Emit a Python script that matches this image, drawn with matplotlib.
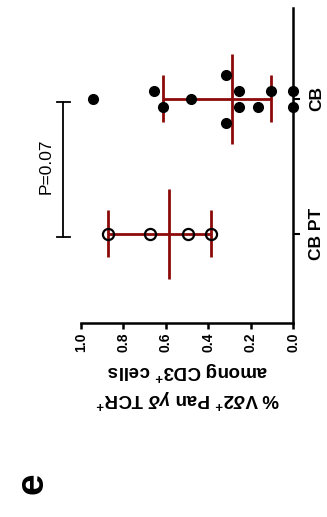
import matplotlib
matplotlib.use("Agg")
import matplotlib.pyplot as plt
import numpy as np

plt.rcParams['font.family'] = ['Liberation Sans', 'DejaVu Sans']
plt.rcParams['mathtext.fontset'] = 'custom'
plt.rcParams['mathtext.rm'] = 'Liberation Sans:bold'
plt.rcParams['mathtext.bf'] = 'Liberation Sans:bold'
plt.rcParams['mathtext.it'] = 'Liberation Sans:bold:italic'

# ---- data ----
categories = ["CB PT", "CB"]
cb_pt_values = [0.870, 0.674, 0.493, 0.386]
cb_values = [0.0, 0.0, 0.104, 0.166, 0.254, 0.254, 0.316, 0.316,
             0.482, 0.614, 0.655, 0.943]
# median with interquartile range
cb_pt_median, cb_pt_low, cb_pt_high = 0.583, 0.386, 0.870
cb_median, cb_low, cb_high = 0.287, 0.104, 0.614
value_ticks = [1.0, 0.8, 0.6, 0.4, 0.2, 0.0]
p_text = "P=0.07"

# scatter slots (multiples of the row spacing) for the CB points
cb_slots = [0.5, -0.5, 0.5, -0.5, 0.5, -0.5, 1.5, -1.5, 0.0, -0.5, 0.5, 0.0]
slot_step = 0.1185

red = '#8c0a0a'
W, H = 327, 517
fig = plt.figure(figsize=(W / 100, H / 100), dpi=100)
ax = fig.add_axes([80.7 / W, 1 - 323 / H, (293 - 80.7) / W, (323 - 8) / H])

pos = {c: i for i, c in enumerate(categories)}

def summary(y, med, lo, hi):
    ax.plot([lo, hi], [y, y], color=red, lw=2.0, zorder=2, solid_capstyle='butt')
    for v in (lo, hi):
        ax.plot([v, v], [y - 0.174, y + 0.174], color=red, lw=2.0, zorder=2,
                solid_capstyle='butt')
    ax.plot([med, med], [y - 0.333, y + 0.333], color=red, lw=2.0, zorder=2,
            solid_capstyle='butt')

summary(pos["CB PT"], cb_pt_median, cb_pt_low, cb_pt_high)
summary(pos["CB"], cb_median, cb_low, cb_high)

ax.plot(cb_pt_values, [pos["CB PT"]] * len(cb_pt_values), 'o', ms=8,
        mfc='none', mec='black', mew=1.6, zorder=4, clip_on=False)
ax.plot(cb_values, pos["CB"] + np.array(cb_slots) * slot_step, 'o', ms=7,
        mfc='black', mec='black', zorder=4, clip_on=False)

ax.set_xlim(1.0, 0.0)
ax.set_ylim(-0.66, 1.674)

for s in ('top', 'left'):
    ax.spines[s].set_visible(False)
for s in ('bottom', 'right'):
    ax.spines[s].set_linewidth(1.8)

ax.set_xticks(value_ticks)
ax.set_xticklabels([f"{v:.1f}" for v in value_ticks], rotation=90,
                   fontsize=10, fontweight='bold')
ax.tick_params(axis='x', length=4, width=1.8, pad=3)

ax.yaxis.tick_right()
ax.set_yticks([pos[c] for c in categories])
ax.set_yticklabels(categories, rotation=90, fontsize=12.5, fontweight='bold',
                   va='center', ha='left')
ax.tick_params(axis='y', length=5, width=1.5, pad=6.5)

# significance bracket
bx, cap = 1.082, 0.031
y0, y1 = pos["CB PT"] - 0.02, pos["CB"] - 0.02
ax.plot([bx, bx], [y0, y1], color='black', lw=1.3, clip_on=False)
for yy in (y0, y1):
    ax.plot([bx - cap, bx + cap], [yy, yy], color='black', lw=1.3, clip_on=False)
fig.text(45.7 / W, 1 - 166 / H, p_text, rotation=90, fontsize=12.5,
         ha='center', va='center')

fig.text(188 / W, 1 - 385 / H,
         "% V$\\delta$2$^{+}$ Pan $\\gamma\\delta$ TCR$^{+}$\namong CD3$^{+}$ cells",
         rotation=180, fontsize=13.5, fontweight='bold', ha='center',
         va='center', linespacing=1.25, multialignment='center')

fig.text(33 / W, 1 - 483 / H, "e", rotation=90, fontsize=28,
         fontweight='bold', ha='center', va='center')

fig.savefig("out.png", dpi=100)
